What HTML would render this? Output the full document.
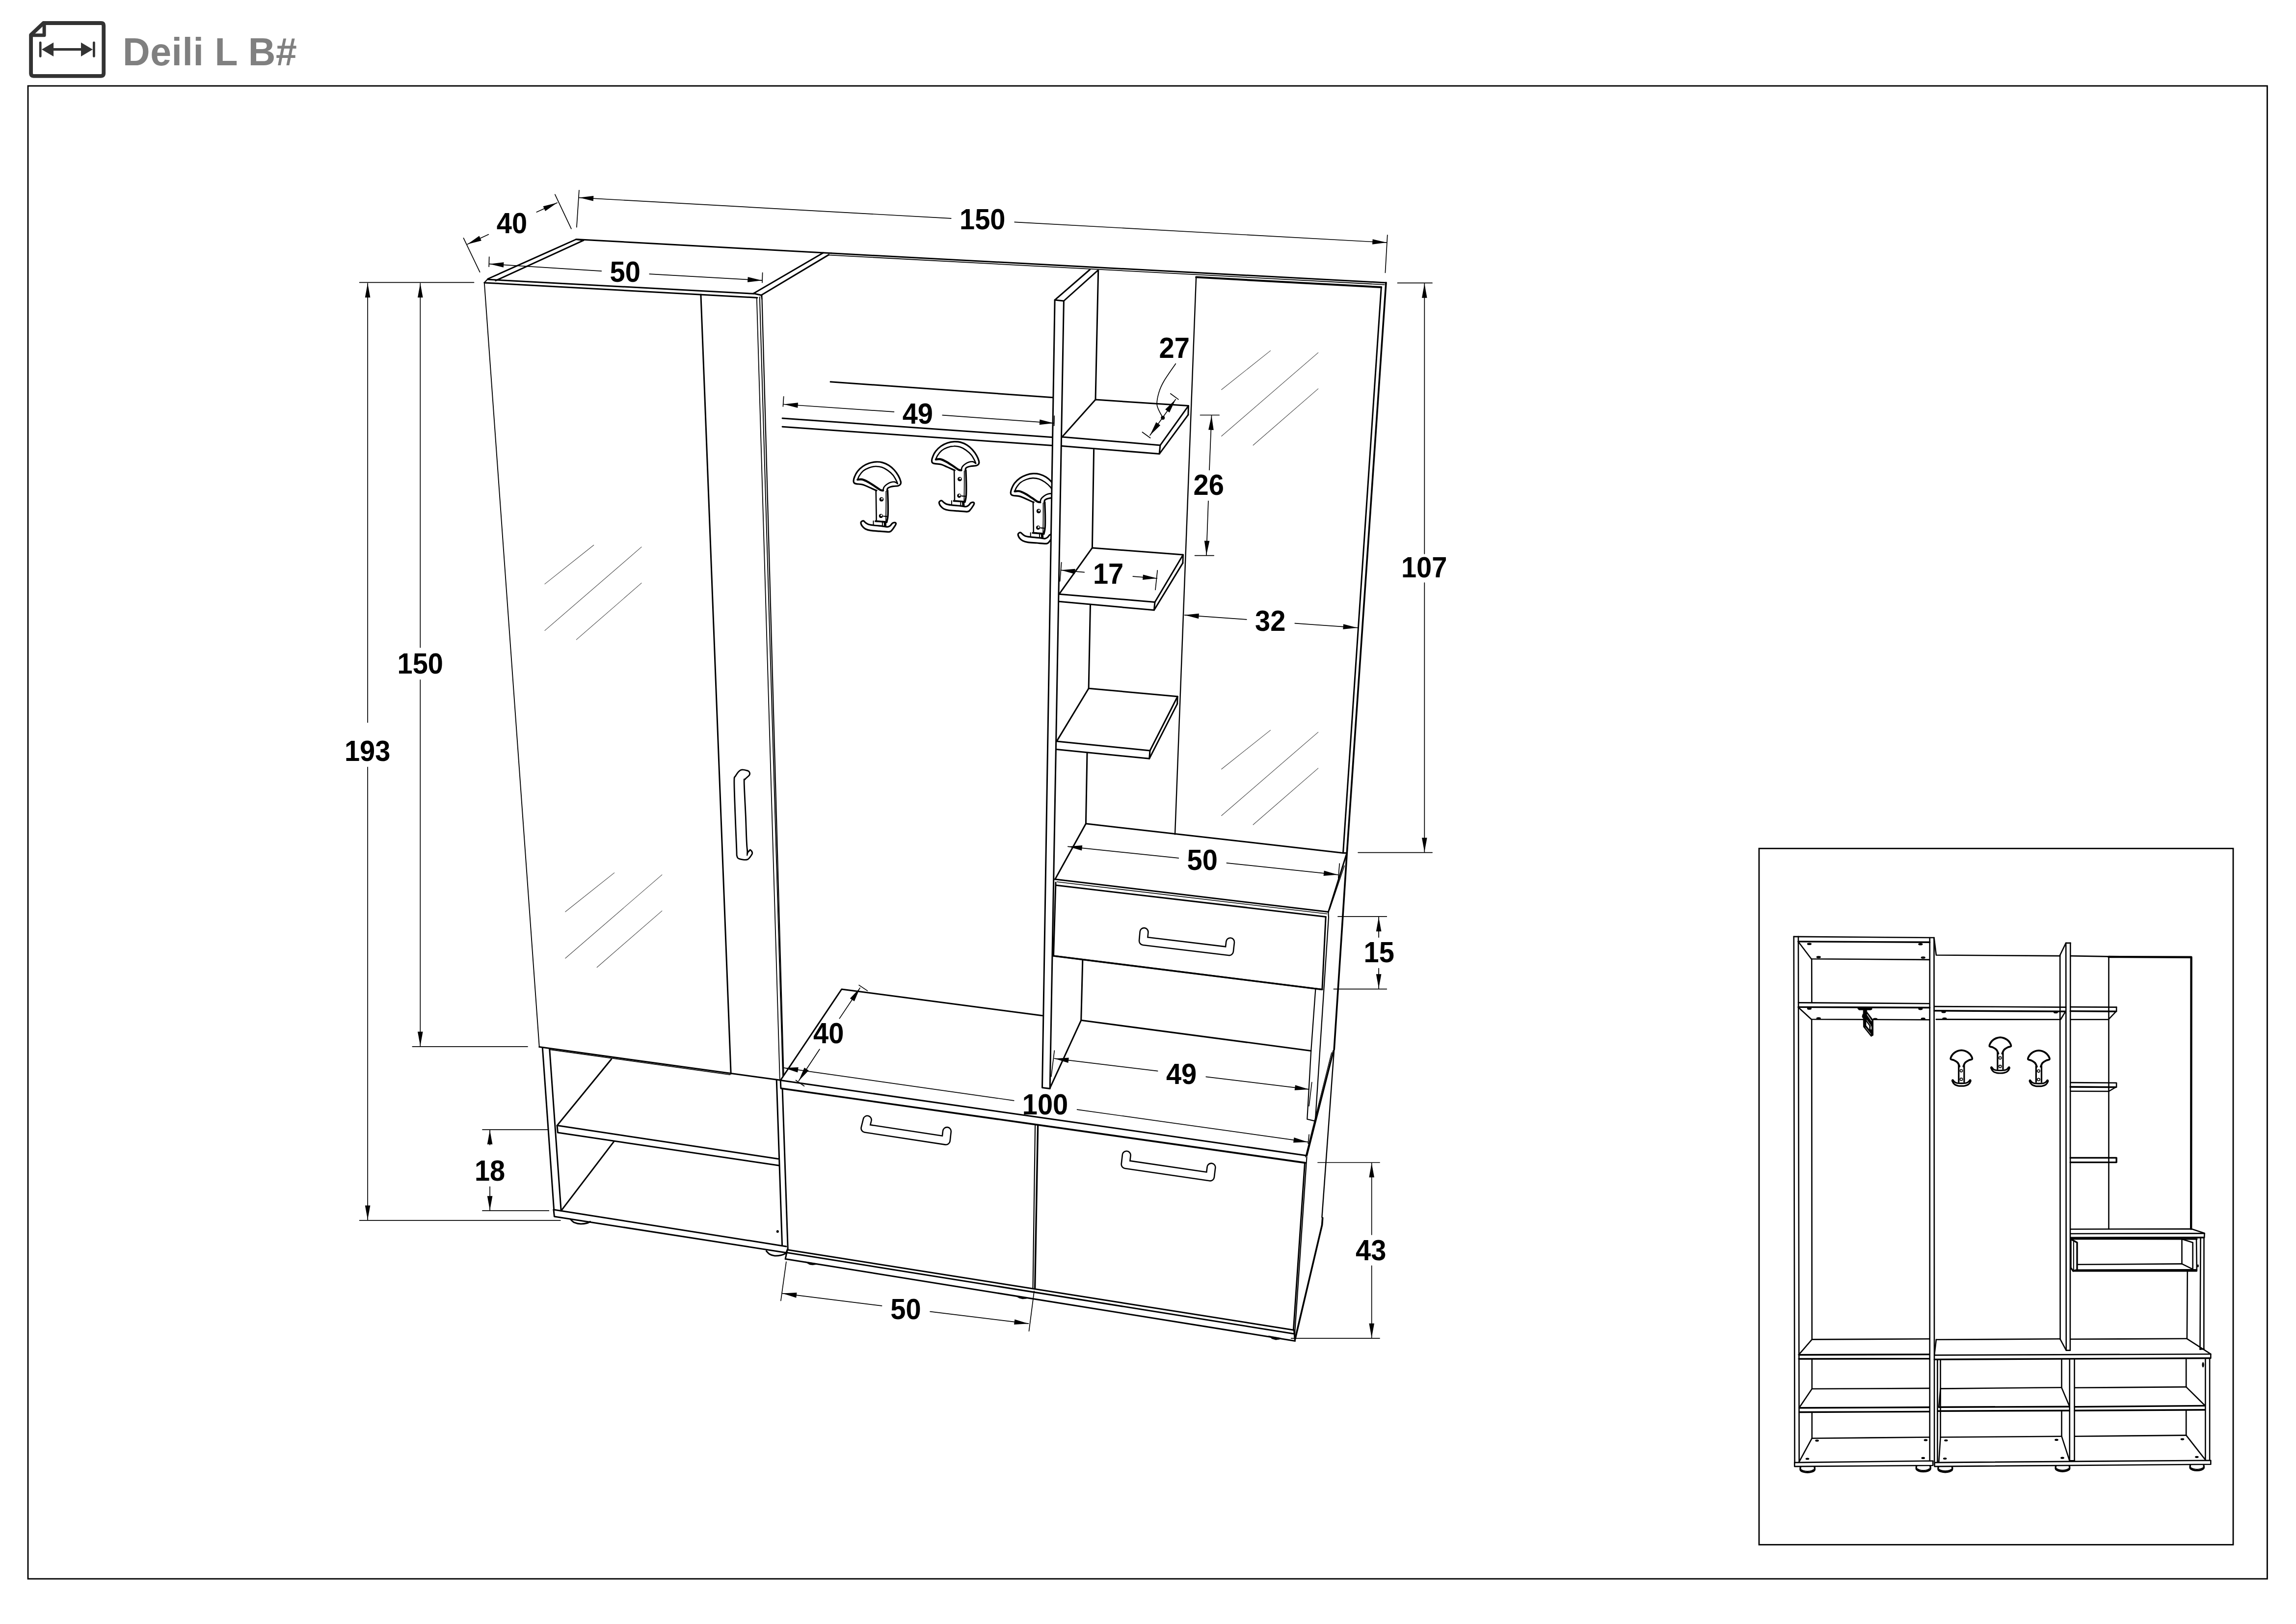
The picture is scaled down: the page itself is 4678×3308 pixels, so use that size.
<!DOCTYPE html>
<html><head><meta charset="utf-8"><title>Deili L B#</title>
<style>
html,body{margin:0;padding:0;background:#fff;}
body{width:4678px;height:3308px;overflow:hidden;position:relative;font-family:"Liberation Sans",sans-serif;}
svg{position:absolute;left:0;top:0;display:block}
svg text{font-family:"Liberation Sans",sans-serif;font-weight:bold}
</style></head><body>
<svg width="4678" height="3308" viewBox="0 0 4678 3308" stroke="#000" stroke-linecap="round" stroke-linejoin="round" fill="none">
<g stroke="#333" fill="none" stroke-linejoin="round" stroke-linecap="round">
<path d="M88.5,47 L206,47 Q211.2,47 211.2,52.2 L211.2,149.6 Q211.2,154.8 206,154.8 L68.3,154.8 Q63.1,154.8 63.1,149.6 L63.1,71 Z" stroke-width="7.8"/>
<path d="M90.1,48 L90.1,71.8 L64,71.8" stroke-width="7"/>
<path d="M82.2,86.8 L82.2,114.6 M191.4,86.8 L191.4,114.6" stroke-width="4.8"/>
<path d="M105,100.7 L170,100.7" stroke-width="5.2" stroke-linecap="butt"/>
<path d="M84.9,100.7 L109.1,86.6 L109.1,114.9 Z M189,100.7 L165,86.6 L165,114.9 Z" fill="#333" stroke="none"/>
</g>
<text transform="translate(250 133.4) scale(1 1.03)" font-size="77" fill="#808080" stroke="none" letter-spacing="0.6">Deili L B#</text>
<rect x="57" y="175" width="4562.4" height="3041" stroke-width="2.8" stroke-linejoin="miter"/>
<rect x="3584" y="1728.3" width="966" height="1418.2" stroke-width="2.8" stroke-linejoin="miter"/>
<path d="M1945.4,957.9 C1944.9,957.7 1944.7,957.9 1942.2,956.8 C1939.7,955.7 1934.5,953.2 1930.3,951.4 C1926.1,949.6 1921.6,947.2 1917.3,946.0 C1913.0,944.8 1907.3,944.9 1904.4,944.4 C1901.5,943.9 1901.0,943.8 1900.0,942.8 C1899.0,941.8 1898.3,940.7 1898.4,938.5 C1898.5,936.3 1899.2,933.0 1900.6,929.8 C1901.9,926.5 1903.7,922.5 1906.5,919.0 C1909.3,915.5 1913.3,911.6 1917.3,908.8 C1921.3,906.0 1925.8,903.8 1930.3,902.3 C1934.8,900.8 1939.8,899.8 1944.3,899.6 C1948.8,899.4 1953.0,899.7 1957.3,900.9 C1961.6,902.1 1966.3,904.1 1970.3,906.6 C1974.3,909.1 1977.9,912.3 1981.1,915.8 C1984.3,919.3 1987.5,923.7 1989.7,927.7 C1992.0,931.7 1993.9,936.7 1994.6,939.6 C1995.3,942.5 1994.9,943.6 1994.1,945.0 C1993.3,946.4 1992.2,947.5 1989.7,948.2 C1987.2,949.0 1982.0,949.0 1978.9,949.5 C1975.9,950.0 1973.3,950.6 1971.4,951.4 C1969.5,952.2 1968.3,952.9 1967.6,954.1 C1966.9,955.3 1967.1,957.8 1967.0,958.5" stroke-width="3.2" fill="none"/>
<path d="M1906.7,935.8 C1907.3,934.4 1908.3,930.7 1910.3,927.7 C1912.2,924.7 1915.1,920.6 1918.4,917.9 C1921.7,915.2 1926.2,913.0 1930.3,911.5 C1934.4,910.0 1939.0,908.9 1943.3,908.8 C1947.6,908.6 1952.1,909.2 1956.2,910.6 C1960.3,912.0 1964.3,914.2 1968.1,916.9 C1971.9,919.6 1975.9,923.0 1978.9,926.6 C1981.9,930.2 1984.5,935.6 1986.0,938.5 C1987.5,941.4 1987.8,943.0 1988.1,943.9" stroke-width="2.6" fill="none"/>
<path d="M1988.1,943.9 C1987.1,943.3 1984.6,940.8 1982.2,940.4 C1979.8,940.0 1976.3,940.6 1973.5,941.5 C1970.7,942.4 1967.6,944.4 1965.4,946.0 C1963.2,947.6 1961.4,949.5 1960.3,951.4 C1959.2,953.3 1958.9,956.4 1958.6,957.4" stroke-width="2.6" fill="none"/>
<path d="M1906.7,935.8 C1908.3,935.7 1912.6,934.6 1916.2,935.4 C1919.8,936.2 1923.8,938.2 1928.1,940.6 C1932.4,943.0 1938.0,946.8 1942.2,949.5 C1946.4,952.2 1950.3,955.4 1953.0,956.8 C1955.7,958.2 1957.7,957.7 1958.6,957.9" stroke-width="4.2" fill="none"/>
<path d="M1944.1,957.9 C1944.2,963.3 1944.5,980.4 1944.6,990.3 C1944.7,1000.2 1945.1,1012.4 1944.9,1017.4 C1944.7,1022.4 1943.6,1019.9 1943.3,1020.4" stroke-width="2.6" fill="none"/>
<path d="M1964.7,959.5 C1964.7,964.6 1964.8,980.3 1964.7,990.3 C1964.6,1000.3 1964.4,1014.6 1964.3,1019.5" stroke-width="1.8" fill="none"/>
<path d="M1967.9,957.9 C1968.0,962.4 1968.6,976.2 1968.7,984.9 C1968.8,993.5 1968.9,1003.5 1968.4,1009.8 C1968.0,1016.1 1966.4,1020.6 1966.0,1022.8" stroke-width="3.4" fill="none"/>
<path d="M1943.3,1020.4 C1944.9,1020.5 1949.6,1020.8 1953.0,1021.0 C1956.4,1021.2 1962.0,1021.8 1963.8,1021.9" stroke-width="3.6" fill="none"/>
<path d="M1959.5,1010.3 C1960.9,1010.4 1966.7,1010.8 1968.1,1010.9" stroke-width="2.2" fill="none"/>
<circle cx="1955.4" cy="975.9" r="4.43459" fill="#000" stroke-width="0"/>
<circle cx="1956.3" cy="974.8" r="1.8" fill="#fff" stroke-width="0"/>
<circle cx="1954.3" cy="1009.7" r="4.21286" fill="#000" stroke-width="0"/>
<circle cx="1955.2" cy="1008.6" r="1.8" fill="#fff" stroke-width="0"/>
<path d="M1914.1,1021.7 C1913.3,1022.6 1913.2,1023.4 1913.5,1024.9 C1913.8,1026.4 1914.7,1028.7 1916.2,1030.6 C1917.7,1032.5 1919.8,1034.8 1922.7,1036.3 C1925.6,1037.8 1928.6,1038.7 1933.5,1039.5 C1938.4,1040.3 1945.6,1040.5 1951.9,1040.9 C1958.2,1041.4 1967.2,1042.7 1971.4,1042.2 C1975.6,1041.7 1975.3,1040.1 1977.3,1037.9 C1979.3,1035.8 1982.0,1031.4 1983.3,1029.3 C1984.6,1027.2 1985.1,1026.1 1984.9,1025.1 C1984.7,1024.1 1983.4,1023.2 1982.2,1023.1 C1981.0,1023.0 1979.4,1023.4 1977.9,1024.4 C1976.5,1025.4 1975.1,1028.0 1973.5,1029.3 C1971.9,1030.6 1970.8,1031.8 1968.1,1032.0 C1965.4,1032.2 1962.1,1031.1 1957.3,1030.6 C1952.5,1030.1 1944.2,1029.4 1939.5,1028.8 C1934.8,1028.2 1931.8,1027.9 1929.2,1027.1 C1926.6,1026.3 1925.6,1025.3 1923.8,1024.1 C1922.0,1022.9 1920.0,1020.1 1918.4,1019.7 C1916.8,1019.3 1914.9,1020.8 1914.1,1021.7 Z" stroke-width="3.2" fill="none"/>
<path d="M1938.9,1020.1 C1938.9,1021.5 1938.9,1026.9 1938.9,1028.2" stroke-width="2" fill="none"/>
<path d="M1957.3,1022.8 C1957.3,1024.0 1957.3,1028.6 1957.3,1029.8" stroke-width="2" fill="none"/>
<path d="M1962.5,1022.8 C1962.6,1023.9 1962.8,1028.4 1962.9,1029.5" stroke-width="5" fill="none"/>
<path d="M1786.0,999.1 C1785.5,998.9 1785.3,999.1 1782.8,998.0 C1780.3,996.9 1775.0,994.4 1770.9,992.6 C1766.7,990.8 1762.2,988.4 1757.9,987.2 C1753.6,986.0 1747.9,986.1 1745.0,985.6 C1742.1,985.1 1741.6,985.0 1740.6,984.0 C1739.6,983.0 1738.9,981.9 1739.0,979.7 C1739.1,977.5 1739.8,974.2 1741.2,971.0 C1742.5,967.8 1744.3,963.7 1747.1,960.2 C1749.9,956.7 1753.9,952.8 1757.9,950.0 C1761.9,947.2 1766.4,945.0 1770.9,943.5 C1775.4,942.0 1780.4,941.0 1784.9,940.8 C1789.4,940.6 1793.6,940.9 1797.9,942.1 C1802.2,943.3 1806.9,945.3 1810.9,947.8 C1814.9,950.3 1818.5,953.5 1821.7,957.0 C1824.9,960.5 1828.0,964.9 1830.3,968.9 C1832.5,972.9 1834.5,977.9 1835.2,980.8 C1835.9,983.7 1835.5,984.8 1834.7,986.2 C1833.9,987.6 1832.8,988.7 1830.3,989.4 C1827.8,990.2 1822.5,990.2 1819.5,990.7 C1816.5,991.2 1813.9,991.8 1812.0,992.6 C1810.1,993.4 1808.9,994.1 1808.2,995.3 C1807.5,996.5 1807.7,999.0 1807.6,999.7" stroke-width="3.2" fill="none"/>
<path d="M1747.3,977.0 C1747.9,975.6 1748.9,971.9 1750.9,968.9 C1752.8,965.9 1755.7,961.8 1759.0,959.1 C1762.3,956.4 1766.8,954.2 1770.9,952.7 C1775.0,951.2 1779.6,950.1 1783.9,950.0 C1788.2,949.9 1792.7,950.5 1796.8,951.8 C1800.9,953.2 1804.9,955.4 1808.7,958.1 C1812.5,960.8 1816.5,964.2 1819.5,967.8 C1822.5,971.4 1825.1,976.8 1826.6,979.7 C1828.1,982.6 1828.3,984.2 1828.7,985.1" stroke-width="2.6" fill="none"/>
<path d="M1828.7,985.1 C1827.7,984.5 1825.2,982.0 1822.8,981.6 C1820.4,981.2 1816.9,981.8 1814.1,982.7 C1811.3,983.6 1808.2,985.6 1806.0,987.2 C1803.8,988.9 1802.0,990.7 1800.9,992.6 C1799.8,994.5 1799.5,997.6 1799.2,998.6" stroke-width="2.6" fill="none"/>
<path d="M1747.3,977.0 C1748.9,976.9 1753.2,975.8 1756.8,976.6 C1760.4,977.4 1764.4,979.5 1768.7,981.8 C1773.0,984.2 1778.6,988.0 1782.8,990.7 C1787.0,993.4 1790.9,996.6 1793.6,998.0 C1796.3,999.4 1798.3,998.9 1799.2,999.1" stroke-width="4.2" fill="none"/>
<path d="M1784.7,999.1 C1784.8,1004.5 1785.1,1021.6 1785.2,1031.5 C1785.3,1041.4 1785.7,1053.6 1785.5,1058.6 C1785.3,1063.6 1784.2,1061.1 1783.9,1061.6" stroke-width="2.6" fill="none"/>
<path d="M1805.3,1000.7 C1805.3,1005.8 1805.4,1021.5 1805.3,1031.5 C1805.2,1041.5 1805.0,1055.8 1804.9,1060.7" stroke-width="1.8" fill="none"/>
<path d="M1808.5,999.1 C1808.6,1003.6 1809.2,1017.4 1809.3,1026.1 C1809.4,1034.8 1809.5,1044.7 1809.0,1051.0 C1808.5,1057.3 1807.0,1061.8 1806.6,1064.0" stroke-width="3.4" fill="none"/>
<path d="M1783.9,1061.6 C1785.5,1061.7 1790.2,1062.0 1793.6,1062.2 C1797.0,1062.5 1802.6,1062.9 1804.4,1063.1" stroke-width="3.6" fill="none"/>
<path d="M1800.1,1051.5 C1801.5,1051.6 1807.3,1052.0 1808.7,1052.1" stroke-width="2.2" fill="none"/>
<circle cx="1796" cy="1017.1" r="4.43459" fill="#000" stroke-width="0"/>
<circle cx="1796.9" cy="1016" r="1.8" fill="#fff" stroke-width="0"/>
<circle cx="1794.9" cy="1050.9" r="4.21286" fill="#000" stroke-width="0"/>
<circle cx="1795.8" cy="1049.8" r="1.8" fill="#fff" stroke-width="0"/>
<path d="M1754.7,1062.9 C1753.9,1063.8 1753.8,1064.6 1754.1,1066.1 C1754.4,1067.6 1755.3,1069.9 1756.8,1071.8 C1758.3,1073.7 1760.4,1076.0 1763.3,1077.5 C1766.2,1079.0 1769.2,1079.9 1774.1,1080.7 C1779.0,1081.5 1786.2,1081.7 1792.5,1082.1 C1798.8,1082.6 1807.8,1083.9 1812.0,1083.4 C1816.2,1082.9 1815.9,1081.3 1817.9,1079.1 C1819.9,1077.0 1822.6,1072.6 1823.9,1070.5 C1825.2,1068.4 1825.7,1067.3 1825.5,1066.3 C1825.3,1065.3 1824.0,1064.4 1822.8,1064.3 C1821.6,1064.2 1820.0,1064.6 1818.5,1065.6 C1817.0,1066.6 1815.7,1069.2 1814.1,1070.5 C1812.5,1071.8 1811.4,1073.0 1808.7,1073.2 C1806.0,1073.4 1802.7,1072.3 1797.9,1071.8 C1793.1,1071.3 1784.8,1070.6 1780.1,1070.0 C1775.4,1069.4 1772.4,1069.1 1769.8,1068.3 C1767.2,1067.5 1766.2,1066.5 1764.4,1065.3 C1762.6,1064.1 1760.6,1061.3 1759.0,1060.9 C1757.4,1060.5 1755.5,1062.0 1754.7,1062.9 Z" stroke-width="3.2" fill="none"/>
<path d="M1779.5,1061.3 C1779.5,1062.7 1779.5,1068.1 1779.5,1069.4" stroke-width="2" fill="none"/>
<path d="M1797.9,1064.0 C1797.9,1065.2 1797.9,1069.8 1797.9,1071.0" stroke-width="2" fill="none"/>
<path d="M1803.1,1064.0 C1803.2,1065.1 1803.4,1069.6 1803.5,1070.7" stroke-width="5" fill="none"/>
<path d="M2106.2,1023.0 C2105.7,1022.8 2105.5,1023.0 2103.0,1021.9 C2100.5,1020.8 2095.2,1018.3 2091.1,1016.5 C2086.9,1014.7 2082.4,1012.3 2078.1,1011.1 C2073.8,1009.9 2068.1,1010.0 2065.2,1009.5 C2062.3,1009.0 2061.8,1008.9 2060.8,1007.9 C2059.8,1006.9 2059.1,1005.8 2059.2,1003.6 C2059.3,1001.4 2060.1,998.1 2061.4,994.9 C2062.8,991.6 2064.5,987.6 2067.3,984.1 C2070.1,980.6 2074.1,976.7 2078.1,973.9 C2082.1,971.1 2086.6,968.9 2091.1,967.4 C2095.6,965.9 2100.6,964.9 2105.1,964.7 C2109.6,964.5 2113.8,964.8 2118.1,966.0 C2122.4,967.2 2127.1,969.2 2131.1,971.7 C2135.1,974.2 2138.7,977.4 2141.9,980.9 C2145.1,984.4 2148.2,988.8 2150.5,992.8 C2152.8,996.8 2154.7,1001.8 2155.4,1004.7 C2156.1,1007.6 2155.7,1008.7 2154.9,1010.1 C2154.1,1011.5 2153.0,1012.6 2150.5,1013.3 C2148.0,1014.1 2142.8,1014.1 2139.7,1014.6 C2136.7,1015.1 2134.1,1015.7 2132.2,1016.5 C2130.3,1017.3 2129.1,1018.0 2128.4,1019.2 C2127.7,1020.4 2127.9,1022.9 2127.8,1023.6" stroke-width="3.2" fill="none"/>
<path d="M2067.5,1000.9 C2068.1,999.5 2069.1,995.8 2071.1,992.8 C2073.1,989.8 2075.9,985.7 2079.2,983.0 C2082.5,980.3 2086.9,978.1 2091.1,976.6 C2095.2,975.1 2099.8,974.0 2104.1,973.9 C2108.4,973.8 2112.9,974.4 2117.0,975.7 C2121.1,977.1 2125.1,979.3 2128.9,982.0 C2132.7,984.7 2136.7,988.1 2139.7,991.7 C2142.7,995.3 2145.3,1000.7 2146.8,1003.6 C2148.3,1006.5 2148.6,1008.1 2148.9,1009.0" stroke-width="2.6" fill="none"/>
<path d="M2148.9,1009.0 C2147.9,1008.4 2145.4,1005.9 2143.0,1005.5 C2140.6,1005.1 2137.1,1005.7 2134.3,1006.6 C2131.5,1007.5 2128.4,1009.5 2126.2,1011.1 C2124.0,1012.8 2122.2,1014.6 2121.1,1016.5 C2120.0,1018.4 2119.7,1021.5 2119.4,1022.5" stroke-width="2.6" fill="none"/>
<path d="M2067.5,1000.9 C2069.1,1000.8 2073.4,999.7 2077.0,1000.5 C2080.6,1001.3 2084.6,1003.4 2088.9,1005.7 C2093.2,1008.1 2098.8,1011.9 2103.0,1014.6 C2107.2,1017.3 2111.1,1020.5 2113.8,1021.9 C2116.5,1023.3 2118.5,1022.8 2119.4,1023.0" stroke-width="4.2" fill="none"/>
<path d="M2104.9,1023.0 C2105.0,1028.4 2105.3,1045.5 2105.4,1055.4 C2105.5,1065.3 2105.9,1077.5 2105.7,1082.5 C2105.5,1087.5 2104.4,1085.0 2104.1,1085.5" stroke-width="2.6" fill="none"/>
<path d="M2125.5,1024.6 C2125.5,1029.7 2125.6,1045.4 2125.5,1055.4 C2125.4,1065.4 2125.2,1079.7 2125.1,1084.6" stroke-width="1.8" fill="none"/>
<path d="M2128.7,1023.0 C2128.8,1027.5 2129.4,1041.3 2129.5,1050.0 C2129.6,1058.7 2129.7,1068.6 2129.2,1074.9 C2128.8,1081.2 2127.2,1085.7 2126.8,1087.9" stroke-width="3.4" fill="none"/>
<path d="M2104.1,1085.5 C2105.7,1085.6 2110.4,1085.8 2113.8,1086.1 C2117.2,1086.3 2122.8,1086.8 2124.6,1087.0" stroke-width="3.6" fill="none"/>
<path d="M2120.3,1075.4 C2121.7,1075.5 2127.5,1075.9 2128.9,1076.0" stroke-width="2.2" fill="none"/>
<circle cx="2116.2" cy="1041" r="4.43459" fill="#000" stroke-width="0"/>
<circle cx="2117.1" cy="1039.9" r="1.8" fill="#fff" stroke-width="0"/>
<circle cx="2115.1" cy="1074.8" r="4.21286" fill="#000" stroke-width="0"/>
<circle cx="2116" cy="1073.7" r="1.8" fill="#fff" stroke-width="0"/>
<path d="M2074.9,1086.8 C2074.1,1087.7 2074.0,1088.5 2074.3,1090.0 C2074.7,1091.5 2075.5,1093.8 2077.0,1095.7 C2078.5,1097.6 2080.6,1099.9 2083.5,1101.4 C2086.4,1102.9 2089.4,1103.8 2094.3,1104.6 C2099.2,1105.4 2106.4,1105.5 2112.7,1106.0 C2119.0,1106.5 2128.0,1107.8 2132.2,1107.3 C2136.4,1106.8 2136.1,1105.2 2138.1,1103.0 C2140.1,1100.8 2142.8,1096.5 2144.1,1094.4 C2145.4,1092.3 2145.9,1091.2 2145.7,1090.2 C2145.5,1089.2 2144.2,1088.3 2143.0,1088.2 C2141.8,1088.1 2140.2,1088.5 2138.7,1089.5 C2137.3,1090.5 2135.9,1093.1 2134.3,1094.4 C2132.7,1095.7 2131.6,1096.9 2128.9,1097.1 C2126.2,1097.3 2122.9,1096.2 2118.1,1095.7 C2113.3,1095.2 2105.0,1094.5 2100.3,1093.9 C2095.6,1093.3 2092.6,1093.0 2090.0,1092.2 C2087.4,1091.4 2086.4,1090.4 2084.6,1089.2 C2082.8,1088.0 2080.8,1085.2 2079.2,1084.8 C2077.6,1084.4 2075.7,1085.9 2074.9,1086.8 Z" stroke-width="3.2" fill="none"/>
<path d="M2099.7,1085.2 C2099.7,1086.5 2099.7,1092.0 2099.7,1093.3" stroke-width="2" fill="none"/>
<path d="M2118.1,1087.9 C2118.1,1089.1 2118.1,1093.7 2118.1,1094.9" stroke-width="2" fill="none"/>
<path d="M2123.3,1087.9 C2123.4,1089.0 2123.6,1093.5 2123.7,1094.6" stroke-width="5" fill="none"/>
<path d="M994.1,568 L1173.9,487.5 L1188.8,489.6" stroke-width="3" fill="none"/>
<path d="M1009.8,571.7 L1188.8,489.6" stroke-width="3" fill="none"/>
<path d="M1173.9,487.5 L1693.4,515.8" stroke-width="3"/>
<path d="M1535.3,597.8 L1677.2,515" stroke-width="3" fill="none"/>
<path d="M1551,601.2 L1688.7,518.9" stroke-width="3" fill="none"/>
<path d="M1535.3,597.8 L1551,601.2" stroke-width="3" fill="none"/>
<path d="M994.1,569.3 L1535.3,598.3" stroke-width="3"/>
<path d="M986.8,575.9 L1543.1,606.4" stroke-width="3"/>
<path d="M994.1,568 L987.3,575.3" stroke-width="2.2"/>
<path d="M986.8,575.9 L1098.8,2132.6" stroke-width="1.9"/>
<path d="M1427.9,599.9 L1489.2,2187.3" stroke-width="3"/>
<path d="M1541.8,606.4 L1588.8,2197.9" stroke-width="1.8"/>
<path d="M1547.8,605 L1595.1,2194" stroke-width="1.9"/>
<path d="M1552.3,601.2 L1596.6,2190" stroke-width="2.2"/>
<path d="M1551,601.2 L1552.3,609.1" stroke-width="2.2"/>
<path d="M1098.8,2132.6 L1591.9,2200.6" stroke-width="3"/>
<path d="M1120.7,2138.1 L1487.6,2189.1" stroke-width="1.6"/>
<path d="M1105.3,2134 L1128.6,2463.7" stroke-width="3"/>
<path d="M1119.7,2136.6 L1143.2,2466.4" stroke-width="3"/>
<path d="M1245.6,2157.5 L1135.1,2292.6 L1585.4,2360.5" stroke-width="3" fill="none"/>
<path d="M1135.1,2292.6 L1136.4,2307 L1586.7,2374.1" stroke-width="3" fill="none"/>
<path d="M1250.9,2325.2 L1143.2,2466.4" stroke-width="3"/>
<path d="M1128,2464 L1601.9,2538.9" stroke-width="3" fill="none"/>
<path d="M1128,2464 L1129.4,2477.9 L1600.6,2551.5" stroke-width="3" fill="none"/>
<path d="M1582.2,2199.8 L1593.6,2537.1" stroke-width="3"/>
<path d="M1594.1,2217.5 L1605.3,2546.2" stroke-width="3"/>
<path d="M1162.0,2483.1 C1163.3,2484.3 1166.4,2488.5 1169.9,2490.2 C1173.4,2491.8 1178.6,2492.8 1182.9,2493.0 C1187.2,2493.2 1192.7,2492.3 1196.0,2491.5 C1199.3,2490.7 1201.4,2488.8 1202.5,2488.3" stroke-width="3" fill="none"/>
<path d="M1561.4,2548.3 C1562.5,2549.4 1565.1,2553.0 1567.9,2554.6 C1570.7,2556.2 1574.5,2557.7 1578.4,2558.0 C1582.3,2558.3 1587.8,2557.6 1591.5,2556.7 C1595.2,2555.8 1598.4,2554.8 1600.6,2552.8 C1602.8,2550.8 1603.8,2546.2 1604.5,2544.9" stroke-width="3" fill="none"/>
<circle cx="1584.3" cy="2508.4" r="2.6" fill="#000" stroke-width="0"/>
<path d="M1693.4,515.8 L2824,575.9" stroke-width="3"/>
<path d="M1686.8,519.4 L2820.8,579.8" stroke-width="1.8"/>
<path d="M2437.1,564.6 L2814.3,585" stroke-width="4"/>
<path d="M2437.1,564.6 L2394,1699.5" stroke-width="2.4"/>
<path d="M2824,575.9 L2744.3,1737.4" stroke-width="3.6"/>
<path d="M2814.3,585 L2736.5,1737.4" stroke-width="3"/>
<path d="M2744.3,1737.4 L2718.2,2137.9" stroke-width="3.6" fill="none"/>
<path d="M2718.2,2137.9 L2693.4,2479.6" stroke-width="2.4" fill="none"/>
<path d="M1692.1,777.8 L2145.7,809.7" stroke-width="3"/>
<path d="M1594.1,852 L2144.9,890.7" stroke-width="3"/>
<path d="M1594.1,869.2 L2144.4,907.6" stroke-width="3"/>
<path d="M2149.1,611.1 L2167.4,613 L2139.2,2217.6 L2123.5,2215.5 Z" stroke-width="3" fill="#fff"/>
<path d="M2149.1,611.1 L2220.7,549" stroke-width="3" fill="none"/>
<path d="M2167.4,613 L2236.7,550.8" stroke-width="3" fill="none"/>
<path d="M2237.7,550.8 L2232,814.2" stroke-width="3"/>
<path d="M2164,890.1 L2232,814.1 L2421.4,826.6 L2363.9,906.9 L2164,890.1" stroke-width="3" fill="none"/>
<path d="M2164,908.4 L2362.1,924.6 L2420.9,844.9" stroke-width="3" fill="none"/>
<path d="M2363.9,906.9 L2362.1,924.6" stroke-width="3"/>
<path d="M2421.4,826.6 L2420.9,844.9" stroke-width="3"/>
<path d="M2228.6,916.3 L2225.4,1115.9" stroke-width="3"/>
<path d="M2158,1210.2 L2225.4,1115.9 L2410.5,1129.9 L2353,1226.4 L2158,1210.2" stroke-width="3" fill="none"/>
<path d="M2158,1225.3 L2351.4,1242.8 L2409.9,1146.9" stroke-width="3" fill="none"/>
<path d="M2353,1226.4 L2351.4,1242.8" stroke-width="3"/>
<path d="M2410.5,1129.9 L2409.9,1146.9" stroke-width="3"/>
<path d="M2221.5,1232.4 L2218.1,1402.2" stroke-width="3"/>
<path d="M2153,1509.9 L2218.1,1402.2 L2399.2,1418.7 L2343,1529 L2153,1509.9" stroke-width="3" fill="none"/>
<path d="M2153,1526.5 L2341.7,1545.3 L2398.7,1433.6" stroke-width="3" fill="none"/>
<path d="M2343,1529 L2341.7,1545.3" stroke-width="3"/>
<path d="M2399.2,1418.7 L2398.7,1433.6" stroke-width="3"/>
<path d="M2215,1533.6 L2212.4,1677.8" stroke-width="3"/>
<path d="M2149.7,1791 L2212.4,1677.8 L2736.5,1737.4 L2744.3,1737.4" stroke-width="3" fill="none"/>
<path d="M2149.7,1791 L2706.4,1857.6" stroke-width="3"/>
<path d="M2153.6,1796.2 L2703.8,1861.5" stroke-width="1.6"/>
<path d="M2152.3,1803.3 L2701.2,1867.5" stroke-width="3"/>
<path d="M2743.8,1738.7 L2706.4,1857.6" stroke-width="3"/>
<path d="M2739.1,1763.5 L2709.1,1852.4" stroke-width="1.6"/>
<path d="M2151,1797.5 L2146.5,1947.1 L2693.9,2015.6 L2701.2,1867.5" stroke-width="3" fill="none"/>
<path d="M2146.5,1947.1 L2693.9,2015.6" stroke-width="3.4"/>
<path d="M2706.4,1857.6 L2707,1868.7 L2679.8,2283.6 L2663.3,2279.7 L2671.2,2140.5 L2680.3,2015.6" stroke-width="2.2" fill="none"/>
<path d="M2205.8,1956.3 L2202.7,2078.3" stroke-width="3"/>
<path d="M2139.2,2216.3 L2202.7,2078.3 L2671,2140.5" stroke-width="3" fill="none"/>
<path d="M2331,1898.5 L2329.4,1916.6 L2504.5,1937.7 L2506.6,1918.9" stroke="#000" stroke-width="19.4" fill="none" stroke-linecap="round" stroke-linejoin="round"/>
<path d="M2331,1898.5 L2329.4,1916.6 L2504.5,1937.7 L2506.6,1918.9" stroke="#fff" stroke-width="14.2" fill="none" stroke-linecap="round" stroke-linejoin="round"/>
<path d="M1590.2,2200.5 L1714.8,2015 L2123.5,2068.7" stroke-width="3" fill="none"/>
<path d="M1590.2,2200.5 L2661.2,2353.7" stroke-width="3"/>
<path d="M1591.5,2217 L2659.4,2368.6" stroke-width="3.6"/>
<path d="M1590.2,2200.5 L1590.9,2216.2" stroke-width="3"/>
<path d="M2716.9,2140.5 L2662.5,2354.2" stroke-width="3.2"/>
<path d="M2713,2144.4 L2659.9,2356.8" stroke-width="1.6"/>
<path d="M2109.1,2291.5 L2104.5,2624.5" stroke-width="2.2"/>
<path d="M2114.6,2292.8 L2108.6,2625.5" stroke-width="3.4"/>
<path d="M1604.5,2545.7 L2635.9,2709.2" stroke-width="3"/>
<path d="M1603.2,2551.5 L2637.2,2717" stroke-width="3"/>
<path d="M1600.6,2564.5 L2638.5,2731.4" stroke-width="3"/>
<path d="M1604,2546.2 L1600.1,2564.5" stroke-width="3"/>
<path d="M2658.4,2369.9 L2635.4,2709.2" stroke-width="3"/>
<path d="M2662.5,2356.8 L2638,2717" stroke-width="2.2"/>
<path d="M2636.4,2709.2 L2638.5,2731.4" stroke-width="3"/>
<path d="M2694.7,2480.9 L2693.6,2495.3 L2638.8,2727.5" stroke-width="3.6" fill="none"/>
<path d="M2069.7,2639.5 L2093.2,2643.4 L2091.5,2645.2 L2083.6,2645.9 L2076.7,2644.3 L2071.4,2641.2 Z" stroke-width="0.5" fill="#000"/>
<path d="M1641,2569.9 L1664.5,2574 L1663.7,2575.6 L1655.8,2576.8 L1649.7,2576 L1643.6,2572.5 Z" stroke-width="0.5" fill="#000"/>
<path d="M2584.9,2720.9 L2609.8,2725.4 L2607.1,2728.2 L2599.3,2729.3 L2591.5,2726.9 Z" stroke-width="0.5" fill="#000"/>
<path d="M1767.1,2281.2 L1762.9,2298.2 L1927.3,2323.3 L1929.4,2304.5" stroke="#000" stroke-width="19.4" fill="none" stroke-linecap="round" stroke-linejoin="round"/>
<path d="M1767.1,2281.2 L1762.9,2298.2 L1927.3,2323.3 L1929.4,2304.5" stroke="#fff" stroke-width="14.2" fill="none" stroke-linecap="round" stroke-linejoin="round"/>
<path d="M2295.2,2353.1 L2293.1,2371.7 L2465.6,2397 L2467.9,2378" stroke="#000" stroke-width="19.4" fill="none" stroke-linecap="round" stroke-linejoin="round"/>
<path d="M2295.2,2353.1 L2293.1,2371.7 L2465.6,2397 L2467.9,2378" stroke="#fff" stroke-width="14.2" fill="none" stroke-linecap="round" stroke-linejoin="round"/>
<path d="M1509.3,1568.5 C1513.3,1566.7 1519.5,1568.9 1522.4,1569.7 C1525.4,1570.5 1526.3,1571.5 1527.0,1573.1 C1527.7,1574.6 1528.2,1576.6 1526.7,1579.0 C1525.2,1581.4 1519.8,1584.7 1518.1,1587.3 C1516.3,1589.9 1516.0,1582.2 1516.2,1594.7 C1516.4,1607.2 1518.3,1639.8 1519.3,1662.4 C1520.3,1685.0 1520.8,1718.8 1522.4,1730.2 C1524.0,1741.7 1527.1,1729.9 1528.8,1731.1 C1530.5,1732.2 1532.5,1735.2 1532.8,1737.1 C1533.1,1738.9 1532.5,1739.9 1530.8,1742.2 C1529.1,1744.5 1526.5,1749.7 1522.4,1750.9 C1518.3,1752.1 1509.7,1750.6 1506.2,1749.4 C1502.7,1748.2 1502.5,1747.2 1501.6,1744.0 C1500.7,1740.8 1501.4,1745.3 1500.8,1730.2 C1500.2,1715.1 1498.5,1676.3 1497.7,1653.2 C1496.9,1630.1 1495.8,1603.7 1495.9,1591.6 C1496.0,1579.5 1496.3,1584.6 1498.5,1580.8 C1500.7,1577.0 1505.3,1570.3 1509.3,1568.5 Z" stroke-width="2.8" fill="none"/>
<path d="M1522.4,1730.2 C1522.4,1732.2 1521.8,1742.0 1522.1,1742.5 C1522.4,1743.0 1524.1,1735.0 1524.5,1733.5" stroke-width="1.8" fill="none"/>
<path d="M1110,1189.6 L1209.8,1110.3" stroke="#4a4a4a" stroke-width="1.1"/>
<path d="M1110,1284.4 L1307,1114.2" stroke="#4a4a4a" stroke-width="1.1"/>
<path d="M1174.4,1302.9 L1307,1187.7" stroke="#4a4a4a" stroke-width="1.1"/>
<path d="M1151.8,1857.2 L1251.6,1777.9" stroke="#4a4a4a" stroke-width="1.1"/>
<path d="M1151.8,1952 L1348.8,1781.8" stroke="#4a4a4a" stroke-width="1.1"/>
<path d="M1216.2,1970.5 L1348.8,1855.3" stroke="#4a4a4a" stroke-width="1.1"/>
<path d="M2488.7,793.7 L2588.5,714.4" stroke="#4a4a4a" stroke-width="1.1"/>
<path d="M2488.7,888.5 L2685.7,718.3" stroke="#4a4a4a" stroke-width="1.1"/>
<path d="M2553.1,907 L2685.7,791.8" stroke="#4a4a4a" stroke-width="1.1"/>
<path d="M2488.7,1566.7 L2588.5,1487.4" stroke="#4a4a4a" stroke-width="1.1"/>
<path d="M2488.7,1661.5 L2685.7,1491.3" stroke="#4a4a4a" stroke-width="1.1"/>
<path d="M2553.1,1680 L2685.7,1564.8" stroke="#4a4a4a" stroke-width="1.1"/>
<path d="M732.6,575.4 L965.5,575.4" stroke-width="1.7"/>
<path d="M732.6,2485.9 L1141.8,2485.9" stroke-width="1.7"/>
<path d="M749.1,577 L749.1,1471.5" stroke-width="1.7"/>
<path d="M749.1,1562.7 L749.1,2484.5" stroke-width="1.7"/>
<path d="M749.1,577 L754.4,606 L743.8,606 Z" fill="#000" stroke="none"/>
<path d="M749.1,2484.5 L743.8,2455.5 L754.4,2455.5 Z" fill="#000" stroke="none"/>
<text transform="translate(748.6 1550.2) scale(1 1.07)" font-size="56" text-anchor="middle" fill="#000" stroke="none">193</text>
<path d="M840.3,2131.8 L1075,2131.8" stroke-width="1.7"/>
<path d="M856.3,577 L856.3,1318.8" stroke-width="1.7"/>
<path d="M856.3,1384.9 L856.3,2130.5" stroke-width="1.7"/>
<path d="M856.3,577 L861.6,606 L851,606 Z" fill="#000" stroke="none"/>
<path d="M856.3,2130.5 L851,2101.5 L861.6,2101.5 Z" fill="#000" stroke="none"/>
<text transform="translate(856.3 1372.2) scale(1 1.07)" font-size="56" text-anchor="middle" fill="#000" stroke="none">150</text>
<path d="M983,2301.1 L1116,2301.1" stroke-width="1.7"/>
<path d="M983,2466.2 L1118.3,2466.2" stroke-width="1.7"/>
<path d="M998.1,2302 L998.1,2332" stroke-width="1.7"/>
<path d="M998.1,2302 L1003.4,2331 L992.8,2331 Z" fill="#000" stroke="none"/>
<path d="M998.1,2417.3 L998.1,2465" stroke-width="1.7"/>
<path d="M998.1,2465.3 L992.8,2436.3 L1003.4,2436.3 Z" fill="#000" stroke="none"/>
<text transform="translate(998.1 2404.9) scale(1 1.07)" font-size="56" text-anchor="middle" fill="#000" stroke="none">18</text>
<path d="M944.4,484.9 L977.6,554.2" stroke-width="1.7"/>
<path d="M1130.8,396.1 L1163.9,465.9" stroke-width="1.7"/>
<path d="M952.3,497.5 L995.4,477.6" stroke-width="1.7"/>
<path d="M952.3,497.5 L976.407,480.532 L980.851,490.155 Z" fill="#000" stroke="none"/>
<path d="M1135.2,413.1 L1093.4,432.1" stroke-width="1.7"/>
<path d="M1135.2,413.1 L1110.99,429.925 L1106.61,420.275 Z" fill="#000" stroke="none"/>
<text transform="translate(1042.9 474.6) scale(1 1.07)" font-size="56" text-anchor="middle" fill="#000" stroke="none">40</text>
<path d="M1179.9,387.5 L1174.9,462.7" stroke-width="1.7"/>
<path d="M2826.8,478.9 L2822.4,555.5" stroke-width="1.7"/>
<path d="M1180.1,402.6 L1937.7,444.9" stroke-width="1.7"/>
<path d="M2067.1,452.3 L2825.3,494.1" stroke-width="1.7"/>
<path d="M1180.1,402.6 L1209.35,398.919 L1208.76,409.502 Z" fill="#000" stroke="none"/>
<path d="M2825.3,494.1 L2796.05,497.781 L2796.64,487.198 Z" fill="#000" stroke="none"/>
<text transform="translate(2001.7 467.2) scale(1 1.07)" font-size="56" text-anchor="middle" fill="#000" stroke="none">150</text>
<path d="M996.7,523.3 L996.2,543.2" stroke-width="1.7"/>
<path d="M1553.6,555.5 L1553,575.6" stroke-width="1.7"/>
<path d="M997.2,537.7 L1225.3,552.1" stroke-width="1.7"/>
<path d="M1323.3,558.1 L1552.3,571.2" stroke-width="1.7"/>
<path d="M997.2,537.7 L1026.47,534.157 L1025.83,544.737 Z" fill="#000" stroke="none"/>
<path d="M1552.3,571.2 L1523.03,574.743 L1523.67,564.163 Z" fill="#000" stroke="none"/>
<text transform="translate(1273.7 574.4) scale(1 1.07)" font-size="56" text-anchor="middle" fill="#000" stroke="none">50</text>
<path d="M1596.7,807.8 L1595.4,827.9" stroke-width="1.7"/>
<path d="M2148.3,847 L2147.6,867.1" stroke-width="1.7"/>
<path d="M1596.7,823.5 L1821.4,838.9" stroke-width="1.7"/>
<path d="M1920.2,845.7 L2147,861.9" stroke-width="1.7"/>
<path d="M1596.7,823.5 L1626,820.232 L1625.26,830.806 Z" fill="#000" stroke="none"/>
<path d="M2147,861.9 L2117.7,865.168 L2118.44,854.594 Z" fill="#000" stroke="none"/>
<text transform="translate(1869.8 863.3) scale(1 1.07)" font-size="56" text-anchor="middle" fill="#000" stroke="none">49</text>
<text transform="translate(2392.7 729.3) scale(1 1.07)" font-size="56" text-anchor="middle" fill="#000" stroke="none">27</text>
<path d="M2395.3,741.0 C2391.4,746.8 2377.5,766.0 2371.8,775.7 C2366.1,785.4 2363.7,790.9 2361.3,799.2 C2358.9,807.5 2356.1,816.7 2357.4,825.3 C2358.7,833.9 2367.2,846.6 2369.2,850.9" stroke-width="1.7" fill="none"/>
<circle cx="2369.2" cy="850.9" r="4" fill="#000" stroke-width="0"/>
<path d="M2327.4,880.2 L2343.6,892" stroke-width="1.7"/>
<path d="M2384.8,801.8 L2401,813.6" stroke-width="1.7"/>
<path d="M2343,886.7 L2395.3,813.6" stroke-width="1.7"/>
<path d="M2343,886.7 L2355.56,860.031 L2364.18,866.199 Z" fill="#000" stroke="none"/>
<path d="M2395.3,813.6 L2382.74,840.269 L2374.12,834.101 Z" fill="#000" stroke="none"/>
<path d="M2445.5,845.5 L2484.1,845.5" stroke-width="1.7"/>
<path d="M2434.5,1131.6 L2473.2,1131.6" stroke-width="1.7"/>
<path d="M2468.5,846.8 L2464,957.3" stroke-width="1.7"/>
<path d="M2461.9,1020.5 L2458,1130.6" stroke-width="1.7"/>
<path d="M2468.5,846.8 L2472.72,875.976 L2462.13,875.584 Z" fill="#000" stroke="none"/>
<path d="M2458,1130.6 L2453.78,1101.42 L2464.37,1101.82 Z" fill="#000" stroke="none"/>
<text transform="translate(2462.7 1007.6) scale(1 1.07)" font-size="56" text-anchor="middle" fill="#000" stroke="none">26</text>
<path d="M2162.7,1145.6 L2159.6,1184" stroke-width="1.7"/>
<path d="M2358.2,1161.8 L2354,1201.5" stroke-width="1.7"/>
<path d="M2161.4,1161.3 L2209.2,1165.7" stroke-width="1.7"/>
<path d="M2161.4,1161.3 L2190.76,1158.68 L2189.79,1169.24 Z" fill="#000" stroke="none"/>
<path d="M2308.3,1174.1 L2357.4,1178" stroke-width="1.7"/>
<path d="M2357.4,1178 L2328.07,1180.99 L2328.91,1170.42 Z" fill="#000" stroke="none"/>
<text transform="translate(2258.1 1188.5) scale(1 1.07)" font-size="56" text-anchor="middle" fill="#000" stroke="none">17</text>
<path d="M2413.6,1252.8 L2539.8,1261.9" stroke-width="1.7"/>
<path d="M2638.3,1269.7 L2765.6,1278.7" stroke-width="1.7"/>
<path d="M2413.6,1252.8 L2442.91,1249.64 L2442.13,1260.21 Z" fill="#000" stroke="none"/>
<path d="M2765.6,1278.7 L2736.29,1281.86 L2737.07,1271.29 Z" fill="#000" stroke="none"/>
<text transform="translate(2588.2 1285.2) scale(1 1.07)" font-size="56" text-anchor="middle" fill="#000" stroke="none">32</text>
<path d="M2847.5,576.4 L2918,576.4" stroke-width="1.7"/>
<path d="M2767.1,1736.6 L2918.1,1736.6" stroke-width="1.7"/>
<path d="M2902.3,577.7 L2902.3,1128" stroke-width="1.7"/>
<path d="M2902.3,1187 L2902.3,1735.5" stroke-width="1.7"/>
<path d="M2902.3,577.7 L2907.6,606.7 L2897,606.7 Z" fill="#000" stroke="none"/>
<path d="M2902.3,1735.5 L2897,1706.5 L2907.6,1706.5 Z" fill="#000" stroke="none"/>
<text transform="translate(2901.6 1176.2) scale(1 1.07)" font-size="56" text-anchor="middle" fill="#000" stroke="none">107</text>
<path d="M2729.2,1759.1 L2726.8,1788.4" stroke-width="1.7"/>
<path d="M2175.8,1724.3 L2401.3,1747.9" stroke-width="1.7"/>
<path d="M2499.3,1757.8 L2726,1781.8" stroke-width="1.7"/>
<path d="M2175.8,1724.3 L2205.19,1722.04 L2204.09,1732.59 Z" fill="#000" stroke="none"/>
<path d="M2726,1781.8 L2696.61,1784.06 L2697.71,1773.51 Z" fill="#000" stroke="none"/>
<text transform="translate(2449.7 1772) scale(1 1.07)" font-size="56" text-anchor="middle" fill="#000" stroke="none">50</text>
<path d="M2726,1866.9 L2825.3,1866.9" stroke-width="1.7"/>
<path d="M2717.4,2014.6 L2825.3,2014.6" stroke-width="1.7"/>
<path d="M2809.1,1868.2 L2809.1,1909.2" stroke-width="1.7"/>
<path d="M2809.1,1868.2 L2814.4,1897.2 L2803.8,1897.2 Z" fill="#000" stroke="none"/>
<path d="M2809.1,1972.5 L2809.1,2013.3" stroke-width="1.7"/>
<path d="M2809.1,2013.3 L2803.8,1984.3 L2814.4,1984.3 Z" fill="#000" stroke="none"/>
<text transform="translate(2809.7 1959.5) scale(1 1.07)" font-size="56" text-anchor="middle" fill="#000" stroke="none">15</text>
<path d="M2148.3,2140 L2141.8,2192.8" stroke-width="1.7"/>
<path d="M2672.8,2204.5 L2667.1,2252.9" stroke-width="1.7"/>
<path d="M2148.3,2156.2 L2358.7,2181.6" stroke-width="1.7"/>
<path d="M2457.2,2193.3 L2667.1,2218.9" stroke-width="1.7"/>
<path d="M2148.3,2156.2 L2177.73,2154.42 L2176.45,2164.94 Z" fill="#000" stroke="none"/>
<path d="M2667.1,2218.9 L2637.67,2220.68 L2638.95,2210.16 Z" fill="#000" stroke="none"/>
<text transform="translate(2407.1 2207.8) scale(1 1.07)" font-size="56" text-anchor="middle" fill="#000" stroke="none">49</text>
<path d="M2667.1,2311.1 L2665.2,2329.4" stroke-width="1.7"/>
<path d="M1597.2,2175.2 L2065.8,2241.8" stroke-width="1.7"/>
<path d="M2194.6,2260.1 L2664.5,2326.2" stroke-width="1.7"/>
<path d="M1597.2,2175.2 L1626.66,2174.01 L1625.17,2184.51 Z" fill="#000" stroke="none"/>
<path d="M2664.5,2326.2 L2635.04,2327.39 L2636.53,2316.89 Z" fill="#000" stroke="none"/>
<text transform="translate(2129.5 2269.7) scale(1 1.07)" font-size="56" text-anchor="middle" fill="#000" stroke="none">100</text>
<path d="M1750.1,2006.6 L1767.3,2018.1" stroke-width="1.7"/>
<path d="M1621.5,2200.5 L1638.5,2212.3" stroke-width="1.7"/>
<path d="M1752.2,2012.4 L1710.4,2074.6" stroke-width="1.7"/>
<path d="M1669.9,2137.3 L1627.3,2201.8" stroke-width="1.7"/>
<path d="M1752.2,2012.4 L1740.66,2039.53 L1731.81,2033.69 Z" fill="#000" stroke="none"/>
<path d="M1627.3,2201.8 L1638.84,2174.67 L1647.69,2180.51 Z" fill="#000" stroke="none"/>
<text transform="translate(1688.2 2125.3) scale(1 1.07)" font-size="56" text-anchor="middle" fill="#000" stroke="none">40</text>
<path d="M1601.9,2570.3 L1590.9,2649.5" stroke-width="1.7"/>
<path d="M2107,2630.1 L2096.5,2711.3" stroke-width="1.7"/>
<path d="M1594.1,2634.6 L1796.6,2659.9" stroke-width="1.7"/>
<path d="M1895.1,2671.7 L2095.5,2696.2" stroke-width="1.7"/>
<path d="M1594.1,2634.6 L1623.53,2632.88 L1622.24,2643.4 Z" fill="#000" stroke="none"/>
<path d="M2095.5,2696.2 L2066.07,2697.92 L2067.36,2687.4 Z" fill="#000" stroke="none"/>
<text transform="translate(1845.5 2686.6) scale(1 1.07)" font-size="56" text-anchor="middle" fill="#000" stroke="none">50</text>
<path d="M2685,2368 L2811,2368" stroke-width="1.7"/>
<path d="M2630.7,2726.1 L2811,2726.1" stroke-width="1.7"/>
<path d="M2794.7,2369.3 L2794.7,2514.9" stroke-width="1.7"/>
<path d="M2794.7,2578.4 L2794.7,2724.8" stroke-width="1.7"/>
<path d="M2794.7,2369.3 L2800,2398.3 L2789.4,2398.3 Z" fill="#000" stroke="none"/>
<path d="M2794.7,2724.8 L2789.4,2695.8 L2800,2695.8 Z" fill="#000" stroke="none"/>
<text transform="translate(2793.2 2567.2) scale(1 1.07)" font-size="56" text-anchor="middle" fill="#000" stroke="none">43</text>
<path d="M3654.8,1907.9 L3656.6,2979.1" stroke-width="2.6"/>
<path d="M3664,1917.2 L3665.7,2977.6" stroke-width="2.6"/>
<path d="M3654.8,1907.9 L3940.5,1910" stroke-width="2.6"/>
<path d="M3664,1917.9 L3931.8,1919.2" stroke-width="3.4"/>
<path d="M3664,1907.9 L3664,1917.2" stroke-width="2.6"/>
<path d="M3931.8,1910 L3931.8,2975.8" stroke-width="2.6"/>
<path d="M3940.5,1910 L3941.2,2976.9" stroke-width="2.6"/>
<path d="M3664,1918.3 L3690.5,1953.2 L3931.4,1954.9" stroke-width="2.6" fill="none"/>
<path d="M3691.2,1953.2 L3691.4,2042.4" stroke-width="2.6"/>
<ellipse cx="3686.4" cy="1922.7" rx="4.6" ry="2.3" fill="#000" stroke="none"/>
<ellipse cx="3912.9" cy="1923.3" rx="4.6" ry="2.3" fill="#000" stroke="none"/>
<ellipse cx="3705.3" cy="1949.5" rx="4.6" ry="2.3" fill="#000" stroke="none"/>
<ellipse cx="3918.3" cy="1950.5" rx="4.6" ry="2.3" fill="#000" stroke="none"/>
<path d="M3664,2042.4 L3931.8,2044.2" stroke-width="2.6"/>
<path d="M3664,2051.4 L3931.8,2052.5" stroke-width="3.4"/>
<path d="M3664.4,2052.2 L3690.5,2076.2 L3931.4,2077.3" stroke-width="2.6" fill="none"/>
<ellipse cx="3686.4" cy="2054.4" rx="4.6" ry="2.3" fill="#000" stroke="none"/>
<ellipse cx="3790.3" cy="2054.6" rx="4.6" ry="2.3" fill="#000" stroke="none"/>
<ellipse cx="3809.9" cy="2054.9" rx="4.6" ry="2.3" fill="#000" stroke="none"/>
<ellipse cx="3912.9" cy="2055.1" rx="4.6" ry="2.3" fill="#000" stroke="none"/>
<ellipse cx="3705.3" cy="2074.2" rx="4.6" ry="2.3" fill="#000" stroke="none"/>
<ellipse cx="3820.7" cy="2075.8" rx="4.6" ry="2.3" fill="#000" stroke="none"/>
<ellipse cx="3918.3" cy="2075.1" rx="4.6" ry="2.3" fill="#000" stroke="none"/>
<path d="M3691.2,2076.8 L3691.8,2727.8" stroke-width="2.6"/>
<path d="M3785.4,2051.6 L3813.9,2051.6 L3813.7,2056.3 L3811.2,2057.3 L3803.6,2057.3 L3803.8,2060.7 L3816.7,2077.9 L3816.7,2109 L3812.2,2111.4 L3796.5,2091.7 L3796.2,2074.5 L3794,2071.5 L3794.5,2067.6 L3796.2,2064.6 L3796.2,2057.3 L3787.6,2057.3 L3785.2,2054.8 Z" stroke-width="0.8" fill="#000"/>
<path d="M3802.3,2081.1 L3808.5,2089.5 L3808.5,2096.7 L3802.3,2088.8 Z" stroke-width="0.1" fill="#fff"/>
<path d="M3811.2,2090.5 L3813.1,2090.5 L3813.1,2097.1 L3811.2,2096.7 Z" stroke-width="0.1" fill="#fff"/>
<path d="M3804.3,2066.6 L3813,2079.4" stroke="#fff" stroke-width="1.2"/>
<path d="M3803.6,2077.9 L3811.7,2089.3" stroke="#fff" stroke-width="0.9"/>
<path d="M3801.1,2093.2 L3811.7,2106.5" stroke="#fff" stroke-width="0.9"/>
<path d="M3665,2759.3 L3691.8,2728.4 L3931.4,2727.3" stroke-width="2.6" fill="none"/>
<path d="M3665,2759.8 L3931.4,2758.9" stroke-width="3.4"/>
<path d="M3665,2768 L3931.4,2767.6" stroke-width="3.4"/>
<path d="M3691.8,2769.1 L3691.8,2828.6" stroke-width="2.6"/>
<path d="M3666.1,2867.1 L3691.8,2829 L3931.4,2827.9" stroke-width="2.6" fill="none"/>
<path d="M3666.1,2867.8 L3931.4,2866.5" stroke-width="3.4"/>
<path d="M3666.1,2876.5 L3931.4,2875.4" stroke-width="3.4"/>
<path d="M3691.8,2877.4 L3691.8,2929.7" stroke-width="2.6"/>
<path d="M3665.7,2977.6 L3691.8,2929.7 L3931.4,2927.5" stroke-width="2.6" fill="none"/>
<path d="M3656.3,2979.1 L3938.3,2975.8 L3938.3,2985 L3656.3,2987.1 Z" stroke-width="2.6" fill="none"/>
<ellipse cx="3702.1" cy="2934.4" rx="3.8" ry="2.1" fill="#000" stroke="none"/>
<ellipse cx="3923.5" cy="2933.4" rx="3.8" ry="2.1" fill="#000" stroke="none"/>
<ellipse cx="3682.5" cy="2971.5" rx="3.8" ry="2.1" fill="#000" stroke="none"/>
<ellipse cx="3918.3" cy="2969.9" rx="3.8" ry="2.1" fill="#000" stroke="none"/>
<path d="M3668.3,2987.8 C3668.3,2988.9 3667.4,2992.8 3668.3,2994.5 C3669.2,2996.2 3671.4,2997.2 3673.8,2998.0 C3676.2,2998.8 3679.7,2999.3 3682.7,2999.3 C3685.7,2999.3 3689.2,2998.8 3691.6,2998.0 C3694.0,2997.2 3696.2,2996.2 3697.1,2994.5 C3698.0,2992.8 3697.1,2988.9 3697.1,2987.8" stroke-width="3.4" fill="none"/>
<path d="M3668.3,2992.8 C3669.4,2993.3 3672.4,2995.2 3674.8,2995.9 C3677.2,2996.6 3680.1,2996.9 3682.7,2996.9 C3685.3,2996.9 3688.1,2996.6 3690.5,2995.9 C3692.9,2995.2 3696.0,2993.3 3697.1,2992.8" stroke-width="2" fill="none"/>
<path d="M3904.6,2986.1 C3904.6,2987.2 3903.7,2991.1 3904.6,2992.8 C3905.5,2994.5 3907.7,2995.5 3910.0,2996.3 C3912.3,2997.1 3915.8,2997.6 3918.7,2997.6 C3921.6,2997.6 3925.1,2997.1 3927.5,2996.3 C3929.9,2995.5 3932.0,2994.5 3932.9,2992.8 C3933.8,2991.1 3932.9,2987.2 3932.9,2986.1" stroke-width="3.4" fill="none"/>
<path d="M3904.6,2991.1 C3905.7,2991.6 3908.8,2993.4 3911.1,2994.1 C3913.4,2994.8 3916.1,2995.2 3918.7,2995.2 C3921.2,2995.2 3924.0,2994.8 3926.4,2994.1 C3928.8,2993.4 3931.8,2991.6 3932.9,2991.1" stroke-width="2" fill="none"/>
<path d="M3940.5,1910 L3944.9,1945.5 L4197.2,1947.1" stroke-width="2.6" fill="none"/>
<path d="M4197.2,1945.5 L4209.2,1920.9 L4218.5,1920.9" stroke-width="2.6" fill="none"/>
<path d="M4197.2,1945.5 L4197.6,2727.8" stroke-width="2.6"/>
<path d="M4209.2,1920.9 L4209.8,2750.6" stroke-width="2.6"/>
<path d="M4218.3,1920.9 L4217.9,2750.6" stroke-width="2.6"/>
<path d="M4197.6,2727.8 L4209.8,2750.6 L4217.9,2750.6" stroke-width="2.6" fill="none"/>
<path d="M3941.2,2050.1 L4209.2,2051.6" stroke-width="2.6"/>
<path d="M4218.1,2051.1 L4312.2,2051.6" stroke-width="2.6"/>
<path d="M3941.2,2058.8 L4208.1,2060.3" stroke-width="3.4"/>
<path d="M4218.1,2059.6 L4310.9,2060.3" stroke-width="3.4"/>
<path d="M4312.2,2051.6 L4312.2,2060.3" stroke-width="2.6"/>
<path d="M4208.1,2060.9 L4198.3,2076.8 L3944.9,2076.4" stroke-width="2.6" fill="none"/>
<path d="M4310.9,2060.9 L4295.6,2076.8 L4218.1,2076.8" stroke-width="2.6" fill="none"/>
<ellipse cx="3960.1" cy="2061.2" rx="4.6" ry="2.3" fill="#000" stroke="none"/>
<ellipse cx="3961.9" cy="2074.7" rx="4.6" ry="2.3" fill="#000" stroke="none"/>
<ellipse cx="4188.5" cy="2062" rx="4.6" ry="2.3" fill="#000" stroke="none"/>
<path d="M4218.5,1947.1 L4296.3,1948.4" stroke-width="2.6"/>
<path d="M4296.3,1949 L4464.6,1949.7 L4464.2,2503.2" stroke-width="4.4" fill="none"/>
<path d="M4296.5,1948.4 L4296.5,2503.2" stroke-width="2.6"/>
<path d="M4218.1,2205.1 L4312.2,2205.8 L4312.2,2214.5 L4218.1,2213.8" stroke-width="2.6" fill="none"/>
<path d="M4218.1,2214 L4310.9,2214.5" stroke-width="3.4"/>
<path d="M4310.9,2214.5 L4296.5,2223 L4218.1,2222.8" stroke-width="2.6" fill="none"/>
<path d="M4218.1,2358.4 L4312.2,2358.4 L4312.2,2367.6 L4218.1,2367.6" stroke-width="3.4" fill="none"/>
<path d="M4071.5,2146.0 C4070.9,2144.7 4069.7,2140.5 4067.8,2138.4 C4065.9,2136.3 4062.7,2134.6 4060.3,2133.4 C4057.9,2132.2 4054.2,2132.6 4053.5,2131.0 C4052.8,2129.4 4054.6,2126.1 4055.8,2124.0 C4057.1,2121.9 4059.0,2119.9 4061.0,2118.3 C4063.0,2116.7 4065.4,2115.4 4067.8,2114.6 C4070.2,2113.8 4072.9,2113.2 4075.4,2113.2 C4077.9,2113.2 4080.6,2113.8 4083.0,2114.6 C4085.4,2115.4 4087.8,2116.7 4089.8,2118.3 C4091.8,2119.9 4093.8,2121.9 4095.0,2124.0 C4096.2,2126.1 4098.0,2129.4 4097.3,2131.0 C4096.6,2132.6 4093.0,2132.2 4090.6,2133.4 C4088.2,2134.6 4085.0,2136.3 4083.1,2138.4 C4081.2,2140.5 4080.0,2144.7 4079.4,2146.0" stroke-width="3.8" fill="none"/>
<path d="M4069.9,2144.4 C4069.9,2149.9 4069.9,2171.9 4069.9,2177.4" stroke-width="3.2" fill="none"/>
<path d="M4081.0,2144.4 C4081.0,2149.9 4081.0,2171.9 4081.0,2177.4" stroke-width="3.2" fill="none"/>
<circle cx="4075.1" cy="2154.9" r="2.6" fill="none" stroke-width="1.7"/>
<circle cx="4075.1" cy="2172.2" r="2.6" fill="none" stroke-width="1.7"/>
<path d="M4057.9,2173.7 C4058.6,2173.9 4059.7,2176.4 4061.0,2177.4 C4062.3,2178.4 4063.3,2179.3 4065.7,2179.8 C4068.1,2180.3 4072.2,2180.5 4075.4,2180.5 C4078.6,2180.5 4082.7,2180.3 4085.1,2179.8 C4087.5,2179.3 4088.5,2178.4 4089.8,2177.4 C4091.1,2176.4 4092.2,2173.9 4092.9,2173.7 C4093.6,2173.5 4094.7,2174.5 4094.2,2176.0 C4093.7,2177.5 4091.8,2181.0 4089.8,2182.6 C4087.9,2184.2 4084.9,2184.9 4082.5,2185.5 C4080.1,2186.1 4077.8,2186.0 4075.4,2186.0 C4073.0,2186.0 4070.7,2186.1 4068.3,2185.5 C4066.0,2184.9 4063.2,2184.2 4061.3,2182.6 C4059.4,2181.0 4057.4,2177.5 4056.8,2176.0 C4056.2,2174.5 4057.2,2173.5 4057.9,2173.7 Z" stroke-width="3.2" fill="none"/>
<path d="M3992.4,2172.2 C3991.8,2170.9 3990.6,2166.7 3988.7,2164.6 C3986.8,2162.5 3983.6,2160.8 3981.2,2159.6 C3978.8,2158.4 3975.2,2158.8 3974.4,2157.2 C3973.7,2155.6 3975.5,2152.3 3976.7,2150.2 C3978.0,2148.1 3979.9,2146.1 3981.9,2144.5 C3983.9,2142.9 3986.3,2141.6 3988.7,2140.8 C3991.1,2139.9 3993.8,2139.4 3996.3,2139.4 C3998.8,2139.4 4001.5,2139.9 4003.9,2140.8 C4006.3,2141.6 4008.7,2142.9 4010.7,2144.5 C4012.7,2146.1 4014.7,2148.1 4015.9,2150.2 C4017.2,2152.3 4018.9,2155.6 4018.2,2157.2 C4017.5,2158.8 4013.9,2158.4 4011.5,2159.6 C4009.1,2160.8 4005.9,2162.5 4004.0,2164.6 C4002.1,2166.7 4000.9,2170.9 4000.3,2172.2" stroke-width="3.8" fill="none"/>
<path d="M3990.8,2170.6 C3990.8,2176.1 3990.8,2198.1 3990.8,2203.6" stroke-width="3.2" fill="none"/>
<path d="M4001.9,2170.6 C4001.9,2176.1 4001.9,2198.1 4001.9,2203.6" stroke-width="3.2" fill="none"/>
<circle cx="3996" cy="2181.1" r="2.6" fill="none" stroke-width="1.7"/>
<circle cx="3996" cy="2198.4" r="2.6" fill="none" stroke-width="1.7"/>
<path d="M3978.8,2199.9 C3979.5,2200.1 3980.6,2202.6 3981.9,2203.6 C3983.2,2204.6 3984.2,2205.5 3986.6,2206.0 C3989.0,2206.5 3993.1,2206.7 3996.3,2206.7 C3999.5,2206.7 4003.6,2206.5 4006.0,2206.0 C4008.4,2205.5 4009.4,2204.6 4010.7,2203.6 C4012.0,2202.6 4013.1,2200.1 4013.8,2199.9 C4014.5,2199.7 4015.6,2200.7 4015.1,2202.2 C4014.6,2203.7 4012.7,2207.2 4010.7,2208.8 C4008.8,2210.4 4005.8,2211.1 4003.4,2211.7 C4001.0,2212.3 3998.7,2212.2 3996.3,2212.2 C3993.9,2212.2 3991.6,2212.3 3989.2,2211.7 C3986.9,2211.1 3984.1,2210.4 3982.2,2208.8 C3980.3,2207.2 3978.3,2203.7 3977.7,2202.2 C3977.1,2200.7 3978.1,2199.7 3978.8,2199.9 Z" stroke-width="3.2" fill="none"/>
<path d="M4150.0,2172.7 C4149.4,2171.4 4148.2,2167.2 4146.3,2165.1 C4144.4,2163.0 4141.2,2161.3 4138.8,2160.1 C4136.4,2158.9 4132.8,2159.3 4132.0,2157.7 C4131.2,2156.1 4133.1,2152.8 4134.3,2150.7 C4135.6,2148.6 4137.5,2146.6 4139.5,2145.0 C4141.5,2143.4 4143.9,2142.1 4146.3,2141.3 C4148.7,2140.4 4151.4,2139.9 4153.9,2139.9 C4156.4,2139.9 4159.1,2140.4 4161.5,2141.3 C4163.9,2142.1 4166.3,2143.4 4168.3,2145.0 C4170.3,2146.6 4172.2,2148.6 4173.5,2150.7 C4174.8,2152.8 4176.5,2156.1 4175.8,2157.7 C4175.1,2159.3 4171.5,2158.9 4169.1,2160.1 C4166.7,2161.3 4163.5,2163.0 4161.6,2165.1 C4159.7,2167.2 4158.5,2171.4 4157.9,2172.7" stroke-width="3.8" fill="none"/>
<path d="M4148.4,2171.1 C4148.4,2176.6 4148.4,2198.6 4148.4,2204.1" stroke-width="3.2" fill="none"/>
<path d="M4159.5,2171.1 C4159.5,2176.6 4159.5,2198.6 4159.5,2204.1" stroke-width="3.2" fill="none"/>
<circle cx="4153.6" cy="2181.6" r="2.6" fill="none" stroke-width="1.7"/>
<circle cx="4153.6" cy="2198.9" r="2.6" fill="none" stroke-width="1.7"/>
<path d="M4136.4,2200.4 C4137.1,2200.6 4138.2,2203.1 4139.5,2204.1 C4140.8,2205.1 4141.8,2206.0 4144.2,2206.5 C4146.6,2207.0 4150.7,2207.2 4153.9,2207.2 C4157.1,2207.2 4161.2,2207.0 4163.6,2206.5 C4166.0,2206.0 4167.0,2205.1 4168.3,2204.1 C4169.6,2203.1 4170.7,2200.6 4171.4,2200.4 C4172.1,2200.2 4173.2,2201.2 4172.7,2202.7 C4172.2,2204.2 4170.2,2207.7 4168.3,2209.3 C4166.4,2210.9 4163.4,2211.6 4161.0,2212.2 C4158.6,2212.8 4156.3,2212.7 4153.9,2212.7 C4151.5,2212.7 4149.1,2212.8 4146.8,2212.2 C4144.5,2211.6 4141.7,2210.9 4139.8,2209.3 C4137.9,2207.7 4135.9,2204.2 4135.3,2202.7 C4134.7,2201.2 4135.7,2200.2 4136.4,2200.4 Z" stroke-width="3.2" fill="none"/>
<path d="M4219,2503.7 L4465.1,2503.2 L4491.6,2511.9 L4491.2,2520.7" stroke-width="2.6" fill="none"/>
<path d="M4219,2513 L4491.6,2512.4" stroke-width="2.6"/>
<path d="M4219,2521.1 L4490.7,2520.7" stroke-width="3.4"/>
<path d="M4483.6,2521.1 L4482.5,2748.4" stroke-width="2.6"/>
<path d="M4490.5,2521.1 L4490.3,2748" stroke-width="2.6"/>
<path d="M4482.5,2748.4 L4490.7,2748" stroke-width="2.6"/>
<path d="M4456.8,2589.3 L4455.9,2726.7" stroke-width="2.6"/>
<path d="M4219,2523.9 L4232,2530.9 L4232,2586.6 L4223.8,2588.8 L4219,2582.3 Z" stroke-width="3.4" fill="none"/>
<path d="M4224.9,2527.2 L4224.9,2588.2" stroke-width="2"/>
<path d="M4219,2523.5 L4475.9,2523.9" stroke-width="3.4"/>
<path d="M4232,2575.8 L4445.5,2574.4" stroke-width="2.6"/>
<path d="M4232,2587.1 L4475.5,2586.6" stroke-width="3.4"/>
<path d="M4223.8,2589.3 L4475.5,2589.3" stroke-width="2.6"/>
<path d="M4445.5,2523.9 L4445.5,2574.4" stroke-width="2.6"/>
<path d="M4445.5,2523.9 L4467.7,2530.9 L4467.7,2585.3 L4445.5,2574.4" stroke-width="2.6" fill="none"/>
<path d="M4475.1,2526.1 L4475.9,2588.2" stroke-width="2.6" fill="none"/>
<ellipse cx="4478.3" cy="2578.4" rx="1.6" ry="3" fill="#000" stroke="none"/>
<path d="M3944.9,2728.8 L4197.6,2727.3" stroke-width="2.6"/>
<path d="M4219,2727.8 L4455.3,2726.7" stroke-width="2.6"/>
<path d="M3944.9,2728.8 L3941.2,2759.8" stroke-width="2.6" fill="none"/>
<path d="M4455.3,2726.7 L4504.3,2758.2 L4504.3,2766.5" stroke-width="2.6" fill="none"/>
<path d="M3941.2,2760.4 L4504.3,2758.2" stroke-width="2.6"/>
<path d="M3941.2,2769.1 L4503.4,2766.5" stroke-width="3.4"/>
<path d="M3947.5,2770.2 L3947.5,2978" stroke-width="2.6"/>
<path d="M3953.6,2770.2 L3953.6,2926.8" stroke-width="2.6"/>
<path d="M4216.8,2769.1 L4216.8,2975.8" stroke-width="2.6"/>
<path d="M4226.6,2769.1 L4226.6,2975.8" stroke-width="2.6"/>
<path d="M4216.8,2975.8 L4226.6,2975.8" stroke-width="3.4"/>
<path d="M4493.4,2768 L4493.4,2974.1" stroke-width="2.6"/>
<path d="M4502.1,2768 L4502.1,2974.7" stroke-width="2.6"/>
<path d="M4200.5,2769.1 L4200.5,2826.4" stroke-width="2.6"/>
<path d="M4454.2,2769.1 L4454.2,2825.1" stroke-width="2.6"/>
<path d="M3953.6,2828.6 L4200.5,2826.2" stroke-width="2.6"/>
<path d="M4227.7,2826.8 L4454.2,2825.1" stroke-width="2.6"/>
<path d="M4200.5,2826.8 L4216.4,2864.3" stroke-width="2.6" fill="none"/>
<path d="M4454.2,2825.1 L4492.5,2863" stroke-width="2.6" fill="none"/>
<path d="M3953.6,2828.6 L3950.3,2866" stroke-width="2.6" fill="none"/>
<path d="M3950.3,2866.3 L4216.4,2865.2" stroke-width="3.4"/>
<path d="M4227.2,2865.6 L4492.5,2863.4" stroke-width="3.4"/>
<path d="M3948.1,2874.3 L4216.4,2873.2" stroke-width="3.4"/>
<path d="M4227.2,2873.2 L4492.5,2871.7" stroke-width="3.4"/>
<path d="M4200.5,2874.7 L4200.5,2925.7" stroke-width="2.6"/>
<path d="M4454.2,2872.6 L4454.2,2923.6" stroke-width="2.6"/>
<path d="M3953.6,2927.5 L4200.5,2925.7" stroke-width="2.6"/>
<path d="M4227.7,2925.7 L4454.2,2923.6" stroke-width="2.6"/>
<path d="M4200.5,2925.7 L4216.8,2975.8" stroke-width="2.6" fill="none"/>
<path d="M4454.2,2923.6 L4493.4,2973.6" stroke-width="2.6" fill="none"/>
<path d="M3953.6,2927.5 L3950.3,2978" stroke-width="2.6" fill="none"/>
<path d="M3941.6,2979.1 L4504.3,2974.7 L4504.3,2982.8 L3941.6,2987.1 Z" stroke-width="2.6" fill="none"/>
<ellipse cx="3964.9" cy="2934" rx="3.8" ry="2.1" fill="#000" stroke="none"/>
<ellipse cx="3962.7" cy="2971" rx="3.8" ry="2.1" fill="#000" stroke="none"/>
<ellipse cx="4190" cy="2932.9" rx="3.8" ry="2.1" fill="#000" stroke="none"/>
<ellipse cx="4202" cy="2969.7" rx="3.8" ry="2.1" fill="#000" stroke="none"/>
<ellipse cx="4446.5" cy="2931.6" rx="3.8" ry="2.1" fill="#000" stroke="none"/>
<ellipse cx="4475.9" cy="2967.8" rx="3.8" ry="2.1" fill="#000" stroke="none"/>
<ellipse cx="4488.6" cy="2780" rx="2.2" ry="5.4" fill="#000" stroke="none"/>
<path d="M3949.2,2987.8 C3949.2,2988.8 3948.3,2992.3 3949.2,2993.9 C3950.1,2995.5 3952.3,2996.6 3954.7,2997.4 C3957.1,2998.2 3960.5,2998.7 3963.4,2998.7 C3966.3,2998.7 3969.8,2998.2 3972.1,2997.4 C3974.4,2996.6 3976.6,2995.5 3977.5,2993.9 C3978.4,2992.3 3977.5,2988.8 3977.5,2987.8" stroke-width="3.4" fill="none"/>
<path d="M3949.2,2992.2 C3950.3,2992.7 3953.4,2994.5 3955.8,2995.2 C3958.2,2995.9 3960.9,2996.3 3963.4,2996.3 C3965.9,2996.3 3968.7,2995.9 3971.0,2995.2 C3973.3,2994.5 3976.4,2992.7 3977.5,2992.2" stroke-width="2" fill="none"/>
<path d="M4188.5,2986.3 C4188.5,2987.3 4187.6,2990.8 4188.5,2992.4 C4189.4,2994.0 4191.6,2995.1 4193.9,2995.9 C4196.2,2996.7 4199.6,2997.2 4202.4,2997.2 C4205.2,2997.2 4208.6,2996.7 4210.9,2995.9 C4213.2,2995.1 4215.5,2994.0 4216.4,2992.4 C4217.3,2990.8 4216.4,2987.3 4216.4,2986.3" stroke-width="3.4" fill="none"/>
<path d="M4188.5,2990.6 C4189.6,2991.1 4192.7,2993.0 4195.0,2993.7 C4197.3,2994.4 4199.9,2994.8 4202.4,2994.8 C4204.9,2994.8 4207.5,2994.4 4209.8,2993.7 C4212.1,2993.0 4215.3,2991.1 4216.4,2990.6" stroke-width="2" fill="none"/>
<path d="M4462.4,2985.2 C4462.4,2986.1 4461.5,2989.1 4462.4,2990.6 C4463.3,2992.1 4465.6,2993.3 4467.9,2994.1 C4470.2,2994.9 4473.5,2995.4 4476.3,2995.4 C4479.1,2995.4 4482.4,2994.9 4484.7,2994.1 C4487.0,2993.3 4489.2,2992.1 4490.1,2990.6 C4491.0,2989.1 4490.1,2986.1 4490.1,2985.2" stroke-width="3.4" fill="none"/>
<path d="M4462.4,2988.9 C4463.5,2989.4 4466.7,2991.2 4469.0,2991.9 C4471.3,2992.6 4473.9,2993.0 4476.3,2993.0 C4478.7,2993.0 4481.3,2992.6 4483.6,2991.9 C4485.9,2991.2 4489.0,2989.4 4490.1,2988.9" stroke-width="2" fill="none"/>
</svg>
</body></html>
